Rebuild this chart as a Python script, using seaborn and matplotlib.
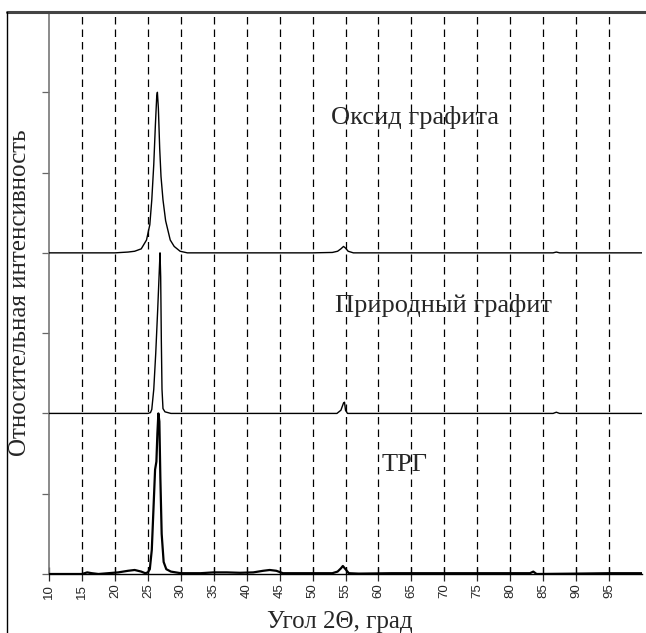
import matplotlib
matplotlib.use("Agg")
import matplotlib.pyplot as plt
from matplotlib.lines import Line2D
import numpy as np
import pandas as pd
import seaborn as sns

# Diffraction patterns, normalised to a peak height of 2 and stacked with offsets
oxide_angle = [10, 15, 20, 22, 23, 24, 24.8, 25.3, 25.6, 25.9, 26.15, 26.35, 26.45,
               26.6, 26.8, 27.0, 27.3, 27.7, 28.4, 29.0, 29.9, 31, 40, 50, 53,
               53.8, 54.3, 54.7, 55.0, 55.4, 56.2, 60, 70, 80, 86.5, 87, 87.5, 100]
oxide_int = [0, 0, 0, 0.01, 0.02, 0.05, 0.16, 0.35, 0.66, 1.1, 1.6, 1.95, 2.0,
             1.8, 1.3, 0.95, 0.66, 0.4, 0.16, 0.08, 0.02, 0.0, 0.0, 0.0, 0.005,
             0.02, 0.05, 0.08, 0.06, 0.02, 0.0, 0.0, 0.0, 0.0, 0.0, 0.01, 0.0, 0.0]

natural_angle = [10, 25, 25.4, 25.6, 25.9, 26.2, 26.5, 26.75, 26.85, 26.95, 27.05,
                 27.15, 27.3, 27.6, 28.5, 53.7, 54.3, 54.7, 54.85, 55.0, 55.3,
                 86.5, 87, 87.5, 100]
natural_int = [0, 0, 0.01, 0.05, 0.3, 0.75, 1.3, 1.8, 2.0, 1.7, 0.9,
               0.3, 0.06, 0.02, 0.0, 0.0, 0.04, 0.13, 0.14, 0.04, 0.0,
               0.0, 0.015, 0.0, 0.0]

trg_angle = [10, 15, 15.8, 16.5, 17.5, 19, 20.5, 22, 23, 24, 24.6, 25.0, 25.3,
             25.6, 25.9, 26.1, 26.3, 26.45, 26.6, 26.75, 26.9, 27.1, 27.4, 27.8,
             28.5, 30, 33, 35, 37, 39, 41, 42.5, 43.5, 44.5, 45.5, 47, 50, 53,
             53.8, 54.3, 54.6, 55.0, 55.5, 57, 62, 70, 75, 80, 83, 83.5, 84,
             90, 95, 100]
trg_int = [0, 0.0, 0.02, 0.01, 0.0, 0.01, 0.02, 0.04, 0.05, 0.03, 0.01, 0.02, 0.06,
           0.3, 0.9, 1.3, 1.4, 1.75, 2.0, 1.9, 1.2, 0.5, 0.15, 0.06,
           0.03, 0.01, 0.01, 0.02, 0.02, 0.015, 0.02, 0.04, 0.05, 0.04, 0.01, 0.01, 0.01, 0.01,
           0.03, 0.07, 0.1, 0.06, 0.01, 0.005, 0.01, 0.01, 0.01, 0.01, 0.01, 0.03, 0.0,
           0.005, 0.01, 0.01]

sample_names = ["Оксид графита", "Природный графит", "ТРГ"]
offsets = [4, 2, 0]
label_pos = [(65.5, 5.68), (69.8, 3.35), (64.0, 1.36)]

x_ticks = list(range(10, 100, 5))
grid_angles = list(range(15, 100, 5))

frames = []
for name, ang, inten, off in zip(sample_names,
                                 [oxide_angle, natural_angle, trg_angle],
                                 [oxide_int, natural_int, trg_int], offsets):
    frames.append(pd.DataFrame({"angle": ang,
                                "intensity": np.array(inten) + off,
                                "sample": name}))
data = pd.concat(frames, ignore_index=True)

sns.set_style("ticks")
plt.rcParams["font.family"] = ["Liberation Serif", "DejaVu Serif"]

fig = plt.figure(figsize=(6.46, 6.33), dpi=100)
ax = fig.add_axes([49 / 646, 1 - 574 / 633, (642 - 49) / 646, (574 - 12) / 633])

for g in grid_angles:
    ax.axvline(g, color="black", lw=0.9, ls=(0, (6, 4)), zorder=1)

sns.lineplot(data=data, x="angle", y="intensity", units="sample", estimator=None,
             color="black", lw=1.0, sort=False, ax=ax, zorder=3)
# the TRG pattern is noisier and renders as a heavier trace
ax.lines[-1].set_linewidth(1.6)

for name, (tx, ty) in zip(sample_names, label_pos):
    ax.text(tx, ty, name, fontsize=19, ha="center", va="center",
            family=["Liberation Serif", "DejaVu Serif"])

ax.set_xlim(10, 100)
ax.set_ylim(0, 7)
ax.set_xticks(x_ticks)
ax.set_xticklabels([str(t) for t in x_ticks], rotation=90,
                   family=["Liberation Sans", "DejaVu Sans"], fontsize=9.5)
ax.set_yticks(range(0, 8))
ax.set_yticklabels([])
ax.tick_params(axis="x", direction="inout", length=10, width=0.9, pad=2)
ax.tick_params(axis="y", direction="out", length=5, width=0.9, color="#666666")

ax.set_xlabel("Угол 2Θ, град", fontsize=18)
ax.set_ylabel("Относительная интенсивность", fontsize=18)
ax.xaxis.set_label_coords(0.49, -0.085)
ax.yaxis.set_label_coords(-0.049, 0.50)
ax.xaxis.label.set_va("center")
ax.yaxis.label.set_va("center")

for s in ["top", "right"]:
    ax.spines[s].set_visible(False)
ax.spines["left"].set_color("#777777")
ax.spines["left"].set_linewidth(1.2)
ax.spines["bottom"].set_color("black")
ax.spines["bottom"].set_linewidth(1.0)

# outer frame of the figure
fig.add_artist(Line2D([7 / 646, 1], [1 - 12 / 633, 1 - 12 / 633],
                      color="#444444", lw=2.2, transform=fig.transFigure))
fig.add_artist(Line2D([7 / 646, 7 / 646], [0, 1 - 12 / 633],
                      color="black", lw=1.0, transform=fig.transFigure))

fig.savefig("out.png", dpi=100)
